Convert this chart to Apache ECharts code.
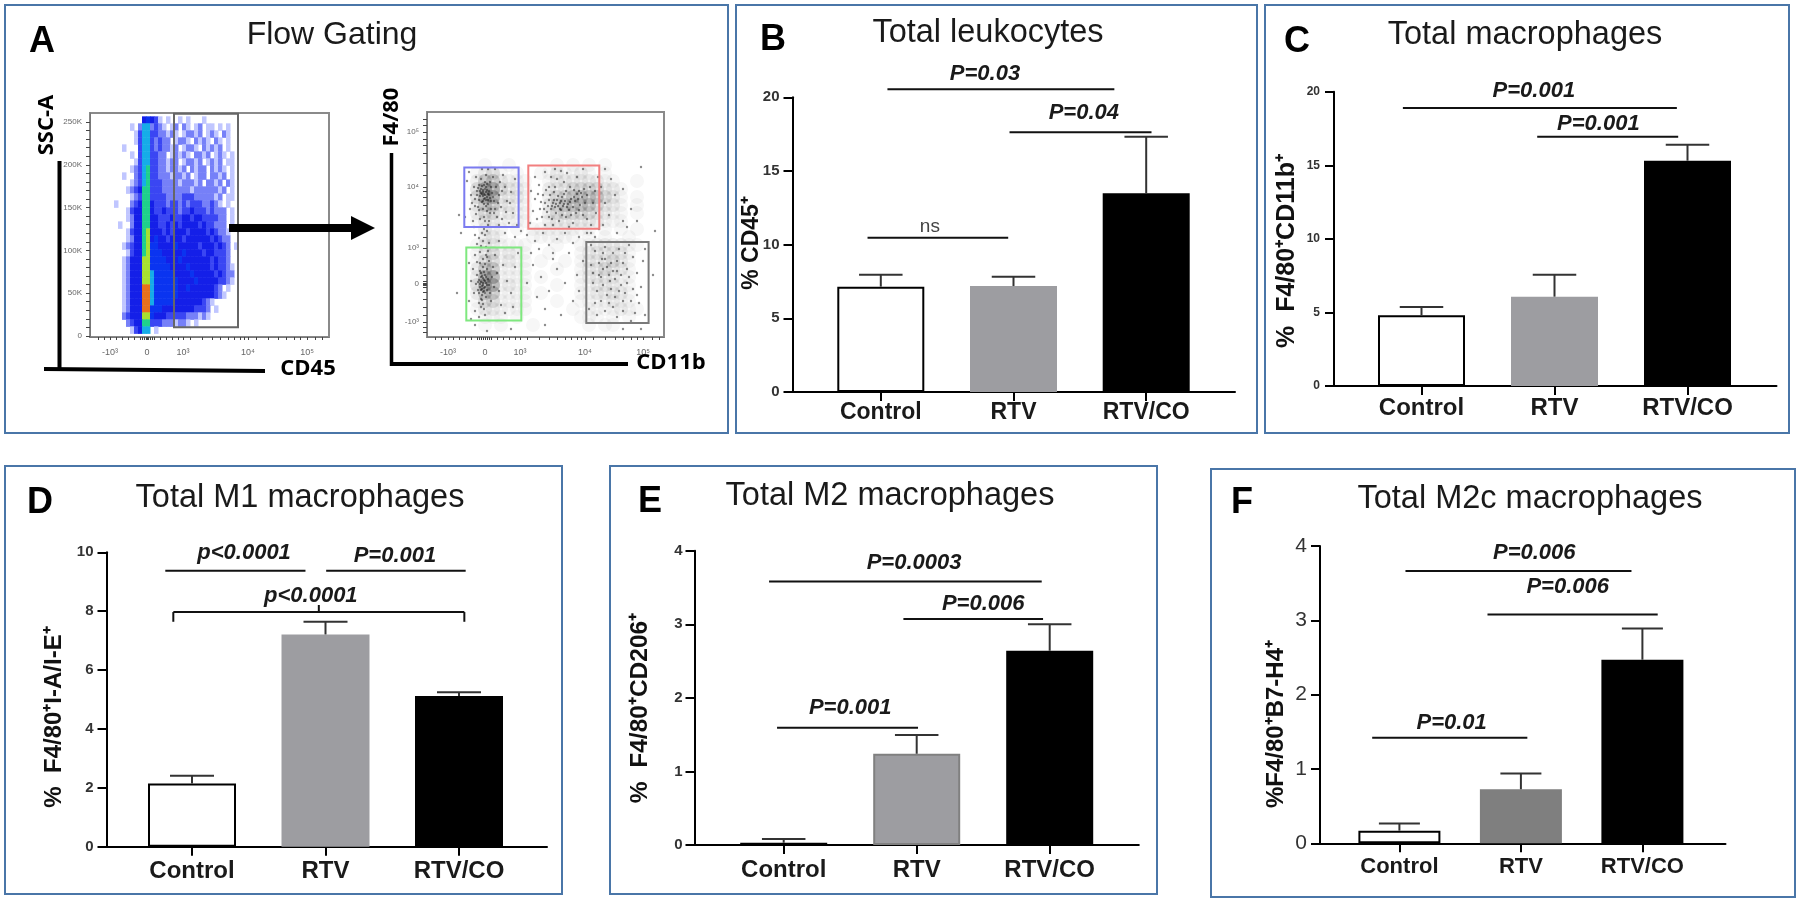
<!DOCTYPE html>
<html>
<head>
<meta charset="utf-8">
<title>Macrophage panels</title>
<script src="https://cdn.jsdelivr.net/npm/echarts@6/dist/echarts.min.js"></script>
<style>
html, body { margin: 0; padding: 0; background: #fff; }
#main { width: 1800px; height: 902px; }
#main canvas { filter: blur(0.5px); }
</style>
</head>
<body>
<div id="main"></div>
<script>
// values
var categories = ['Control', 'RTV', 'RTV/CO'];

var b_means = [7.15, 7.19, 13.48];
var b_sems = [0.81, 0.63, 3.85];
var b_lines = [[1.05, 2.76, 20.54], [1.97, 3.04, 17.62], [0.90, 1.96, 10.47]];
var b_notes = [[1.785, 21.58, 'P=0.03'], [2.53, 18.91, 'P=0.04'], [1.37, 11.2, 'ns']];

var c_means = [4.80, 6.07, 15.31];
var c_sems = [0.57, 1.49, 1.09];
var c_lines = [[0.86, 2.92, 18.89], [1.87, 2.93, 16.94]];
var c_notes = [[1.845, 20.08, 'P=0.001'], [2.33, 17.8, 'P=0.001']];

var d_means = [2.15, 7.21, 5.12];
var d_sems = [0.26, 0.43, 0.13];
var d_lines = [[0.80, 1.85, 9.37], [2.005, 3.05, 9.37]];
var d_notes = [[1.39, 9.99, 'p<0.0001'], [2.52, 9.86, 'P=0.001'], [1.89, 8.52, 'p<0.0001']];
var d_brace = [0.86, 3.04, 7.97, 7.64, 8.21];

var e_means = [0.03, 1.24, 2.64];
var e_sems = [0.05, 0.255, 0.36];
var e_lines = [[0.89, 2.94, 3.58], [1.90, 2.95, 3.07], [0.95, 2.01, 1.594]];
var e_notes = [[1.98, 3.84, 'P=0.0003'], [2.50, 3.27, 'P=0.006'], [1.50, 1.857, 'P=0.001']];

var f_means = [0.17, 0.727, 2.47];
var f_sems = [0.095, 0.213, 0.42];
var f_lines = [[1.05, 2.91, 3.665], [1.725, 3.126, 3.08], [0.776, 2.053, 1.42]];
var f_notes = [[2.11, 3.9, 'P=0.006'], [2.385, 3.445, 'P=0.006'], [1.43, 1.615, 'P=0.01']];

// flow plots, axis ticks in display channels
var log_names = ['-10\u00b3', '0', '10\u00b3', '10\u2074', '10\u2075'];
var cd45_channels = [20, 57, 93, 158, 217];
var cd45_minor = [8, 14, 26, 32, 38, 44, 50, 52, 54, 56, 58, 60, 62, 64, 70, 76, 82, 88, 100, 112, 122, 130, 138, 144, 150, 154, 166, 178, 188, 196, 204, 210, 225, 232];
var ssc_ticks = [0, 50, 100, 150, 200, 250];
var ssc_minor = [10, 20, 30, 40, 60, 70, 80, 90, 110, 120, 130, 140, 160, 170, 180, 190, 210, 220, 230, 240];
var cd11b_channels = [21, 58, 93, 158, 216];
var f480_channels = [15, 53, 89, 150, 205];
var f480_minor = [5, 10, 22, 30, 38, 45, 50, 52, 54, 56, 62, 70, 80, 100, 112, 122, 132, 140, 146, 162, 174, 184, 192, 198, 212, 218];

// SSC-A / CD45 density, one string per band from the top, digit = colour level
var ssc_density = [
  '........45431.1..1.1...1........',
  '.....1.2662321.12.21.12.11.1.1..',
  '......13663322121.12212.121.21..',
  '......136632322.1221.2121.21.1..',
  '...1...3663232212.1221.21212.1..',
  '.....1.3663322.12121.2212.121.1.',
  '......13663322122.12212.1212.11.',
  '.....12367332212212.2122.2121.1.',
  '...1..23673322212212.122.2212.1.',
  '.....123673332222122212.2212.21.',
  '....1234773332222222122222212.1.',
  '.....12377333322223332222212.11.',
  '.1...23477433323323233322321.1..',
  '....1344774334333233433323222.1.',
  '....1244774433343344344333322.1.',
  '..1..244774433434344443433222.1.',
  '....13447844434344434444343221..',
  '....124478454434443444444 34322..'.replace(' ', ''),
  '...1234478554444544444344434 32.1'.replace(' ', ''),
  '....134478555444445444434433 32..'.replace(' ', ''),
  '...124448855554445444444434332..',
  '...12444885555544445444443 43321.'.replace(' ', ''),
  '...1244488655555444454444434322.',
  '...1244488655555544445444443321.',
  '...1244499655555544544444432.1..',
  '...124449965555554444444443 21...'.replace(' ', ''),
  '...124449965555544444443 21......'.replace(' ', ''),
  '...1244499555444444443332.1.....',
  '...23444885444333332221 21.......'.replace(' ', ''),
  '....2344773332221221.1..........',
  '.....13466.1....................'
];
var density_colors = ['', '#c0c6ff', '#7680f8', '#3a46f3', '#141fe8', '#0a34f0', '#16ace8', '#1fd08c', '#a8e030', '#e8701c'];

// F4/80 / CD11b shading, one string per band from the top, digit = grey level
var f480_density = [
  '...1..1.....1.1.1.1.....',
  '..1231.1..1121121.1.....',
  '..2442211..122222211..1.',
  '..3553221..2223333221...',
  '..3552221..2334444321.1.',
  '..2442211..2344443221.1.',
  '..2331211..2333332211.1.',
  '..1221111..2222222111...',
  '...211.1.11111111.1.1.1.',
  '...221...111111.1.1..1..',
  '..1221111...1..11222211.',
  '..1231211..1...1222221..',
  '..1331211.1..1.1222321..',
  '..2441111...1..1223221..',
  '..2551111.1....1222211..',
  '..3551211...1..1122211..',
  '..2441111.1....1122221..',
  '..1331111...1..1111211..',
  '..1221111.....1.1111211.',
  '...111.1.......111.1.1..',
  '...1.1...1......1.11....'
];
var grey_levels = [0, 0.035, 0.07, 0.12, 0.19, 0.28];

// F4/80 / CD11b events, [CD11b channel, F4/80 channel]
var dots_blue = [[58,142],[56,145],[60,140],[54,148],[62,146],[57,138],[59,150],[53,141],[63,139],[55,135],[61,133],[50,146],[65,144],[58,155],[52,152],[56,128],[60,126],[48,138],[67,136],[54,158],[63,155],[47,150],[69,150],[51,130],[64,128],[57,120],[44,142],[72,142],[59,162],[49,160],[66,160],[53,118],[62,116],[43,128],[74,130],[46,116],[70,120],[78,150],[80,136],[76,162],[84,145],[86,124],[82,114],[40,156],[88,158],[56,147],[59,137],[61,143],[55,151],[52,137],[57,133],[60,153],[64,150],[50,142],[66,140],[48,131],[68,128],[73,155],[42,165],[61,168],[55,168],[75,118],[90,112],[38,120],[57,143],[59,145],[58,139],[55,143],[60,147],[56,141],[62,142],[54,144],[58,148],[53,146],[61,137],[57,152],[51,149],[64,136],[56,136],[59,131],[52,127],[63,124],[49,123],[67,124],[58,116],[71,134],[75,146],[79,125],[83,134],[45,134],[68,168],[72,112],[47,110],[61,112]];
var dots_green = [[56,52],[54,55],[58,50],[55,48],[57,57],[53,50],[59,54],[56,45],[54,60],[58,62],[52,57],[60,47],[55,42],[57,65],[51,47],[61,58],[53,66],[59,40],[56,70],[50,62],[62,52],[54,38],[58,73],[49,53],[63,44],[52,34],[60,68],[56,78],[47,44],[65,60],[54,30],[59,82],[46,68],[67,50],[50,75],[62,76],[57,28],[44,56],[70,64],[53,85],[64,36],[48,26],[72,46],[61,86],[42,36],[76,72],[80,56],[68,82],[74,32],[84,44],[88,70],[78,24],[56,54],[55,51],[57,49],[54,47],[58,56],[53,53],[56,59],[55,61],[57,46],[52,44],[59,60],[54,64],[58,44],[51,55],[60,52],[55,37],[56,33],[53,74],[60,80],[66,70],[48,82],[42,74],[91,84],[86,30],[52,20],[58,22],[44,18]];
var dots_red = [[133,134],[130,137],[136,131],[128,130],[138,136],[126,134],[134,127],[131,141],[141,133],[124,128],[144,138],[129,124],[137,143],[122,137],[147,140],[135,122],[127,145],[150,143],[120,125],[142,127],[152,146],[125,118],[139,120],[155,140],[118,134],[146,130],[132,116],[157,148],[116,142],[149,124],[128,150],[160,142],[113,128],[143,150],[122,150],[153,132],[110,118],[137,155],[163,150],[118,112],[130,158],[146,114],[108,138],[156,122],[124,160],[166,134],[140,164],[112,152],[160,118],[106,126],[150,160],[134,166],[118,165],[168,146],[104,146],[126,112],[142,110],[164,112],[108,160],[156,168],[128,168],[103,114],[134,136],[131,131],[137,133],[127,137],[140,130],[125,131],[143,135],[148,136],[151,138],[154,144],[133,128],[129,133],[121,131],[117,128],[135,140],[139,146],[123,142],[119,147],[114,135],[111,143],[147,147],[144,122],[152,127],[115,120],[122,120],[158,134],[169,124],[171,160]];
var dots_gray = [[175,78],[180,70],[186,84],[172,62],[190,66],[183,56],[170,46],[196,74],[178,90],[194,52],[168,86],[202,60],[176,52],[188,40],[164,72],[206,80],[184,74],[198,44],[174,36],[210,64],[192,88],[180,42],[166,54],[204,36],[214,50],[186,30],[196,26],[178,26],[208,24],[190,20],[200,68],[216,76],[170,22],[212,34],[182,62],[188,58],[176,68],[194,62],[200,54],[184,48],[192,46],[172,74],[168,34],[206,48],[218,88],[162,28],[204,16],[186,66],[178,78],[198,84],[164,92],[218,22],[190,76],[174,60],[182,34],[196,36],[210,42],[202,92],[176,84],[166,64]];
var dots_loose = [[56,96],[58,102],[54,91],[60,106],[52,99],[57,108],[62,94],[50,93],[55,104],[59,90],[48,102],[100,102],[108,96],[116,104],[122,92],[130,98],[138,104],[146,94],[152,100],[112,88],[126,84],[94,106],[88,100],[78,104],[72,96],[160,104],[176,112],[182,122],[190,104],[196,116],[204,128],[168,100],[178,134],[188,142],[174,150],[184,158],[196,148],[200,110],[210,116],[214,170],[178,168],[106,72],[114,60],[122,46],[130,68],[138,54],[146,36],[118,28],[134,22],[150,62],[126,78],[142,84],[110,40],[100,54],[156,76],[152,46],[164,104],[104,84],[84,8],[60,6],[48,12],[214,8],[196,8],[30,44],[34,104],[32,122],[226,62],[228,106],[118,12],[172,108]];

var ssc_gates = [[84, 148, 10.2, 259.6, '#666']];
var f480_gates = [[37.3, 91.6, 110, 169.6, '#7b7bf0'], [101.3, 172.3, 108.3, 171.6, '#f27f7f'], [39.3, 94.3, 16.6, 89.6, '#7fe87f'], [159.3, 221.6, 14, 95, '#7a7a7a']];

var grids = [], x_axes = [], y_axes = [], series = [], graphics = [];
var sans = '"Liberation Sans", Arial, sans-serif';

function add_text(text, x, y, size, opts) {
  opts = opts || {};
  graphics.push({
    type: 'text',
    x: x,
    y: y,
    rotation: opts.vertical ? Math.PI / 2 : 0,
    z: 50,
    style: {
      text: text,
      fill: opts.color || '#1a1a1a',
      fontSize: size,
      fontWeight: opts.bold ? 'bold' : 'normal',
      fontFamily: opts.family || sans,
      align: 'center',
      verticalAlign: 'middle'
    }
  });
}

function add_frame(x1, y1, x2, y2) {
  graphics.push({
    type: 'rect',
    shape: { x: x1, y: y1, width: x2 - x1, height: y2 - y1 },
    style: { fill: null, stroke: '#4a76a8', lineWidth: 2 }
  });
}

function add_stroke(x1, y1, x2, y2, width) {
  graphics.push({
    type: 'line',
    z: 40,
    shape: { x1: x1, y1: y1, x2: x2, y2: y2 },
    style: { stroke: '#000', lineWidth: width }
  });
}

function line_el(a, b, color, width) {
  return {
    type: 'line',
    shape: { x1: a[0], y1: a[1], x2: b[0], y2: b[1] },
    style: { stroke: color, lineWidth: width, fill: null }
  };
}

function add_bar_panel(p) {
  var idx = grids.length;
  grids.push({ left: p.x0, top: p.y_top, width: p.x_end - p.x0, height: p.y0 - p.y_top });
  x_axes.push({
    gridIndex: idx,
    type: 'value',
    min: 1 - (p.tick0 - p.x0) / p.step,
    max: 1 + (p.x_end - p.tick0) / p.step,
    splitLine: { show: false },
    axisLine: { onZero: false, lineStyle: { color: '#000', width: 2 } },
    axisTick: { customValues: [1, 2, 3], length: 9, lineStyle: { color: '#000', width: 2 } },
    axisLabel: {
      customValues: [1, 2, 3],
      formatter: function (v) { return categories[v - 1]; },
      color: '#1a1a1a',
      fontFamily: sans,
      fontWeight: 'bold',
      fontSize: p.cat_size,
      margin: p.cat_margin
    }
  });
  y_axes.push({
    gridIndex: idx,
    type: 'value',
    min: 0,
    max: p.max,
    interval: p.interval,
    splitLine: { show: false },
    axisLine: { show: true, onZero: false, lineStyle: { color: '#000', width: 2 } },
    axisTick: { show: true, length: 9, lineStyle: { color: '#000', width: 2 } },
    axisLabel: {
      color: '#333',
      fontFamily: sans,
      fontWeight: p.tick_weight || 'bold',
      fontSize: p.tick_size,
      margin: p.tick_margin
    }
  });

  var colors = ['#fff', p.rtv_color, '#000'];
  series.push({
    type: 'bar',
    xAxisIndex: idx,
    yAxisIndex: idx,
    barWidth: p.bar_width,
    silent: true,
    data: p.means.map(function (v, i) {
      return {
        value: [i + 1, v],
        itemStyle: { color: colors[i], borderColor: i == 1 ? p.rtv_edge : '#000', borderWidth: 2 }
      };
    })
  });

  // upper whiskers
  series.push({
    type: 'custom',
    xAxisIndex: idx,
    yAxisIndex: idx,
    silent: true,
    clip: false,
    z: 4,
    data: p.means.map(function (v, i) { return [i + 1, v, v + p.sems[i]]; }),
    renderItem: function (params, api) {
      var base = api.coord([api.value(0), api.value(1)]);
      var cap = api.coord([api.value(0), api.value(2)]);
      var half = p.bar_width / 4;
      return {
        type: 'group',
        children: [
          line_el(base, cap, '#333', 2),
          line_el([cap[0] - half, cap[1]], [cap[0] + half, cap[1]], '#333', 2)
        ]
      };
    }
  });

  // significance lines and their labels
  series.push({
    type: 'custom',
    xAxisIndex: idx,
    yAxisIndex: idx,
    silent: true,
    clip: false,
    z: 5,
    data: p.lines,
    renderItem: function (params, api) {
      var a = api.coord([api.value(0), api.value(2)]);
      var b = api.coord([api.value(1), api.value(2)]);
      return line_el(a, b, '#111', 2);
    }
  });
  series.push({
    type: 'custom',
    xAxisIndex: idx,
    yAxisIndex: idx,
    silent: true,
    clip: false,
    z: 6,
    data: p.notes.map(function (n) { return [n[0], n[1]]; }),
    renderItem: function (params, api) {
      var at = api.coord([api.value(0), api.value(1)]);
      var note = p.notes[params.dataIndex][2];
      var plain = note == 'ns';
      return {
        type: 'text',
        style: {
          x: at[0],
          y: at[1],
          text: note,
          fill: plain ? '#444' : '#1a1a1a',
          fontFamily: sans,
          fontSize: plain ? 19 : 22,
          fontWeight: plain ? 'normal' : 'bold',
          fontStyle: plain ? 'normal' : 'italic',
          align: 'center',
          verticalAlign: 'middle'
        }
      };
    }
  });

  if (p.brace) {
    series.push({
      type: 'custom',
      xAxisIndex: idx,
      yAxisIndex: idx,
      silent: true,
      clip: false,
      z: 5,
      data: [p.brace],
      renderItem: function (params, api) {
        var l = api.coord([api.value(0), api.value(3)]);
        var tl = api.coord([api.value(0), api.value(2)]);
        var r = api.coord([api.value(1), api.value(3)]);
        var tr = api.coord([api.value(1), api.value(2)]);
        var mid = (tl[0] + tr[0]) / 2;
        var notch = api.coord([1, api.value(4)]);
        return {
          type: 'group',
          children: [
            line_el(l, tl, '#111', 2),
            line_el(tl, tr, '#111', 2),
            line_el(tr, r, '#111', 2),
            line_el([mid, tl[1]], [mid, notch[1]], '#111', 2)
          ]
        };
      }
    });
  }

  add_text(p.title, p.title_x, p.title_y, 32.5);
  add_text(p.letter, p.letter_x, p.letter_y, 36, { bold: true, color: '#000' });
  add_text(p.name, p.name_x, p.name_y, p.name_size, { bold: true, vertical: true, color: '#111' });
  add_frame(p.frame[0], p.frame[1], p.frame[2], p.frame[3]);
}

function add_flow_plot(p) {
  var idx = grids.length;
  grids.push({
    left: p.x1,
    top: p.y1,
    width: p.x2 - p.x1,
    height: p.y2 - p.y1,
    show: true,
    backgroundColor: 'transparent',
    borderColor: '#8a8a8a',
    borderWidth: 2
  });
  x_axes.push({
    gridIndex: idx,
    type: 'value',
    min: 0,
    max: p.x2 - p.x1,
    splitLine: { show: false },
    axisLine: { onZero: false, lineStyle: { color: '#777', width: 1 } },
    axisTick: { customValues: p.x_ticks.concat(p.x_minor), length: 3, lineStyle: { color: '#444' } },
    axisLabel: {
      customValues: p.x_ticks,
      formatter: function (v) { return log_names[p.x_ticks.indexOf(v)]; },
      fontSize: 9,
      color: '#666',
      fontFamily: sans,
      margin: 11
    }
  });
  y_axes.push({
    gridIndex: idx,
    type: 'value',
    min: p.y_min,
    max: p.y_max,
    splitLine: { show: false },
    axisLine: { show: true, onZero: false, lineStyle: { color: '#777', width: 1 } },
    axisTick: { show: true, customValues: p.y_ticks.concat(p.y_minor), length: 4, lineStyle: { color: '#444' } },
    axisLabel: {
      customValues: p.y_ticks,
      formatter: p.y_format,
      fontSize: 8,
      color: '#666',
      fontFamily: sans,
      margin: 8
    }
  });
  p.add_marks(idx);
  series.push({
    type: 'custom',
    xAxisIndex: idx,
    yAxisIndex: idx,
    silent: true,
    z: 8,
    data: p.gates.map(function (g) { return g.slice(0, 4); }),
    renderItem: function (params, api) {
      var a = api.coord([api.value(0), api.value(3)]);
      var b = api.coord([api.value(1), api.value(2)]);
      return {
        type: 'rect',
        shape: { x: a[0], y: a[1], width: b[0] - a[0], height: b[1] - a[1] },
        style: { fill: null, stroke: p.gates[params.dataIndex][4], lineWidth: 2 }
      };
    }
  });
}

// strings of levels into [x, y top, level] cells
function density_cells(rows, x0, dx, y0, dy) {
  var cells = [];
  rows.forEach(function (row, r) {
    row.split('').forEach(function (c, col) {
      if (c != '.') cells.push([x0 + col * dx, y0 - r * dy, +c]);
    });
  });
  return cells;
}

add_flow_plot({
  x1: 90, y1: 113, x2: 329, y2: 337,
  y_min: -1.2, y_max: 260.5,
  x_ticks: cd45_channels, x_minor: cd45_minor,
  y_ticks: ssc_ticks, y_minor: ssc_minor,
  y_format: function (v) { return v == 0 ? '0' : v + 'K'; },
  gates: ssc_gates,
  add_marks: function (idx) {
    // 4 channel columns from channel 20, 8.18K bands down from 256.6K
    series.push({
      type: 'custom',
      xAxisIndex: idx,
      yAxisIndex: idx,
      silent: true,
      z: 3,
      data: density_cells(ssc_density, 20, 4, 256.6, 8.18),
      renderItem: function (params, api) {
        var a = api.coord([api.value(0), api.value(1)]);
        var b = api.coord([api.value(0) + 4, api.value(1) - 8.18]);
        return {
          type: 'rect',
          shape: { x: a[0], y: a[1], width: b[0] - a[0] + 0.5, height: b[1] - a[1] + 0.5 },
          style: { fill: density_colors[api.value(2)] }
        };
      }
    });
  }
});

add_flow_plot({
  x1: 427, y1: 112, x2: 664, y2: 337,
  y_min: 0, y_max: 225,
  x_ticks: cd11b_channels, x_minor: cd45_minor,
  y_ticks: f480_channels, y_minor: f480_minor,
  y_format: function (v) { return log_names[f480_channels.indexOf(v)]; },
  gates: f480_gates,
  add_marks: function (idx) {
    // soft grey clouds under the events, 8 channel cells
    series.push({
      type: 'custom',
      xAxisIndex: idx,
      yAxisIndex: idx,
      silent: true,
      z: 3,
      data: density_cells(f480_density, 30, 8, 176, 8),
      renderItem: function (params, api) {
        var at = api.coord([api.value(0) + 4, api.value(1) - 4]);
        return {
          type: 'circle',
          shape: { cx: at[0], cy: at[1], r: 7 },
          style: { fill: 'rgba(40,40,40,' + grey_levels[api.value(2)] + ')' }
        };
      }
    });
    series.push({
      type: 'scatter',
      xAxisIndex: idx,
      yAxisIndex: idx,
      silent: true,
      z: 4,
      symbolSize: 2.4,
      itemStyle: { color: 'rgba(25,25,25,0.62)' },
      data: dots_blue.concat(dots_green, dots_red, dots_gray, dots_loose)
    });
  }
});

add_text('Flow Gating', 332, 35, 32);
add_text('A', 42, 42, 36, { bold: true, color: '#000' });
add_text('SSC-A', 47, 125, 22, { bold: true, vertical: true, color: '#000', family: '"Open Sans", sans-serif' });
add_text('F4/80', 392, 117, 22, { bold: true, vertical: true, color: '#000', family: '"Open Sans", sans-serif' });
add_text('CD45', 308, 369, 22, { bold: true, color: '#000', family: '"Open Sans", sans-serif' });
add_text('CD11b', 671, 363, 22, { bold: true, color: '#000', family: '"Open Sans", sans-serif' });
add_frame(5, 5, 728, 433);

// hand drawn axes and the arrow of panel A
add_stroke(59.5, 161, 59.5, 371, 4);
add_stroke(44, 369, 265, 371, 4);
add_stroke(391.5, 153, 391.5, 366, 3.5);
add_stroke(390, 364, 628, 364, 4);
add_stroke(229, 228, 352, 228, 8);
graphics.push({
  type: 'polygon',
  z: 40,
  shape: { points: [[351, 216], [375, 228], [351, 240]] },
  style: { fill: '#000' }
});

add_bar_panel({
  title: 'Total leukocytes', title_x: 988, title_y: 33,
  letter: 'B', letter_x: 773, letter_y: 40,
  name: '% CD45\u207a', name_x: 752, name_y: 243, name_size: 23,
  frame: [736, 5, 1257, 433],
  x0: 792.5, x_end: 1235, tick0: 880.8, step: 132.7, y_top: 97.3, y0: 392,
  max: 20, interval: 5, tick_size: 15, tick_margin: 13, cat_size: 23, cat_margin: 9,
  bar_width: 87, rtv_color: '#9d9da1', rtv_edge: '#9d9da1',
  means: b_means, sems: b_sems, lines: b_lines, notes: b_notes
});

add_bar_panel({
  title: 'Total macrophages', title_x: 1525, title_y: 35,
  letter: 'C', letter_x: 1297, letter_y: 42,
  name: '%  F4/80\u207aCD11b\u207a', name_x: 1287.5, name_y: 251, name_size: 25,
  frame: [1265, 5, 1789, 433],
  x0: 1334, x_end: 1776.5, tick0: 1421.5, step: 133, y_top: 91.7, y0: 386,
  max: 20, interval: 5, tick_size: 12, tick_margin: 14, cat_size: 24, cat_margin: 10,
  bar_width: 87, rtv_color: '#9d9da1', rtv_edge: '#9d9da1',
  means: c_means, sems: c_sems, lines: c_lines, notes: c_notes
});

add_bar_panel({
  title: 'Total M1 macrophages', title_x: 300, title_y: 498,
  letter: 'D', letter_x: 40, letter_y: 503,
  name: '%  F4/80\u207aI-A/I-E\u207a', name_x: 54.5, name_y: 717, name_size: 24,
  frame: [5, 466, 562, 894],
  x0: 106.5, x_end: 547, tick0: 192, step: 133.5, y_top: 552.3, y0: 846.7,
  max: 10, interval: 2, tick_size: 15, tick_margin: 13, cat_size: 24, cat_margin: 13,
  bar_width: 88, rtv_color: '#9d9da1', rtv_edge: '#9d9da1',
  means: d_means, sems: d_sems, lines: d_lines, notes: d_notes, brace: d_brace
});

add_bar_panel({
  title: 'Total M2 macrophages', title_x: 890, title_y: 496,
  letter: 'E', letter_x: 650, letter_y: 502,
  name: '%  F4/80\u207aCD206\u207a', name_x: 640, name_y: 708, name_size: 24.5,
  frame: [610, 466, 1157, 894],
  x0: 694.5, x_end: 1138.8, tick0: 783.7, step: 133, y_top: 550.7, y0: 845,
  max: 4, interval: 1, tick_size: 15, tick_margin: 12, cat_size: 24, cat_margin: 13,
  bar_width: 87, rtv_color: '#9d9da1', rtv_edge: '#808080',
  means: e_means, sems: e_sems, lines: e_lines, notes: e_notes
});

add_bar_panel({
  title: 'Total M2c macrophages', title_x: 1530, title_y: 499,
  letter: 'F', letter_x: 1242, letter_y: 503,
  name: '%F4/80\u207aB7-H4\u207a', name_x: 1276.5, name_y: 724, name_size: 24,
  frame: [1211, 469, 1795, 897],
  x0: 1320, x_end: 1725.5, tick0: 1399.4, step: 121.5, y_top: 546, y0: 843.3,
  max: 4, interval: 1, tick_size: 21, tick_weight: 'normal', tick_margin: 13, cat_size: 22, cat_margin: 13,
  bar_width: 82, rtv_color: '#7f7f7f', rtv_edge: '#7f7f7f',
  means: f_means, sems: f_sems, lines: f_lines, notes: f_notes
});

var myChart = echarts.init(document.getElementById('main'), null, { renderer: 'canvas' });

var option = {
  animation: false,
  backgroundColor: '#fff',
  grid: grids,
  xAxis: x_axes,
  yAxis: y_axes,
  series: series,
  graphic: graphics
};

myChart.setOption(option);
</script>
</body>
</html>
